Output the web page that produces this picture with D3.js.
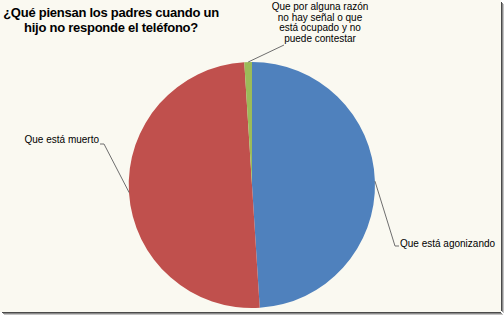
<!DOCTYPE html>
<html>
<head>
<meta charset="utf-8">
<script src="https://cdn.jsdelivr.net/npm/d3@7"></script>
<style>
  body { margin: 0; background: #ffffff; }
  svg { display: block; }
</style>
</head>
<body>
<svg id="chart"></svg>
<script>
// Data
const categories = [
  "Que está agonizando",
  "Que está muerto",
  "Que por alguna razón no hay señal o que está ocupado y no puede contestar"
];
const values = [49, 50, 1];
const labelLines = [
  ["Que está agonizando"],
  ["Que está muerto"],
  ["Que por alguna razón", "no hay señal o que", "está ocupado y no", "puede contestar"]
];
const sliceColors = ["#4f81bd", "#c0504d", "#9bbb59"];
const titleLines = ["¿Qué piensan los padres cuando un", "hijo no responde el teléfono?"];

const width = 504, height = 316;
const cx = 252, cy = 185, radius = 123;
const font = "'Liberation Sans', Arial, sans-serif";

const svg = d3.select("#chart")
  .attr("width", width)
  .attr("height", height);

// Chart area with a small drop shadow on right and bottom
const shadow = ["#4a4a4a", "#8a8a8a", "#c4c4c4"];
shadow.forEach((c, i) => {
  svg.append("rect")
    .attr("x", 501 + i).attr("y", 2 + i)
    .attr("width", 1).attr("height", 311 - 2)
    .attr("fill", c);
  svg.append("rect")
    .attr("x", 2 + i).attr("y", 312 + i)
    .attr("width", 501 - 2).attr("height", 1)
    .attr("fill", c);
});
svg.append("rect")
  .attr("width", 501).attr("height", 312)
  .attr("fill", "#faf9f1");

// Title
svg.append("text")
  .attr("x", 111)
  .attr("y", 17)
  .attr("text-anchor", "middle")
  .attr("font-family", font)
  .attr("font-weight", "bold")
  .attr("font-size", 13)
  .attr("letter-spacing", -0.25)
  .attr("fill", "#000")
  .selectAll("tspan")
  .data(titleLines)
  .join("tspan")
  .attr("x", 111)
  .attr("dy", (d, i) => i === 0 ? 0 : 15)
  .text(d => d);

// Pie
const pie = d3.pie().sort(null).value(d => d);
const arcs = pie(values);
const arc = d3.arc().innerRadius(0).outerRadius(radius);

const g = svg.append("g")
  .attr("transform", `translate(${cx},${cy})`);

g.selectAll("path")
  .data(arcs)
  .join("path")
  .attr("d", arc)
  .attr("fill", (d, i) => sliceColors[i]);

// Labels and leader lines (label anchors are layout, not data)
const labelLayout = [
  { x: 400, y: 247, anchor: "start", elbow: [395, 246], end: [399, 246] },
  { x: 99, y: 143, anchor: "end", elbow: [104, 144], end: [100, 144] },
  { x: 320, y: 10, anchor: "middle", elbow: [284, 45], end: [284, 45] }
];

const edgePoint = d => {
  const a = (d.startAngle + d.endAngle) / 2;
  return [cx + radius * Math.sin(a), cy - radius * Math.cos(a)];
};

arcs.forEach((d, i) => {
  const L = labelLayout[i];
  const p = edgePoint(d);
  svg.append("polyline")
    .attr("points", [p, L.elbow, L.end].map(q => q.join(",")).join(" "))
    .attr("fill", "none")
    .attr("stroke", "#6e6e6e")
    .attr("stroke-width", 1);

  svg.append("text")
    .attr("font-family", font)
    .attr("font-size", 10)
    .attr("fill", "#000")
    .attr("text-anchor", L.anchor)
    .selectAll("tspan")
    .data(labelLines[i])
    .join("tspan")
    .attr("x", L.x)
    .attr("y", (t, j) => L.y + j * 10.7)
    .text(t => t);
});
</script>
</body>
</html>
